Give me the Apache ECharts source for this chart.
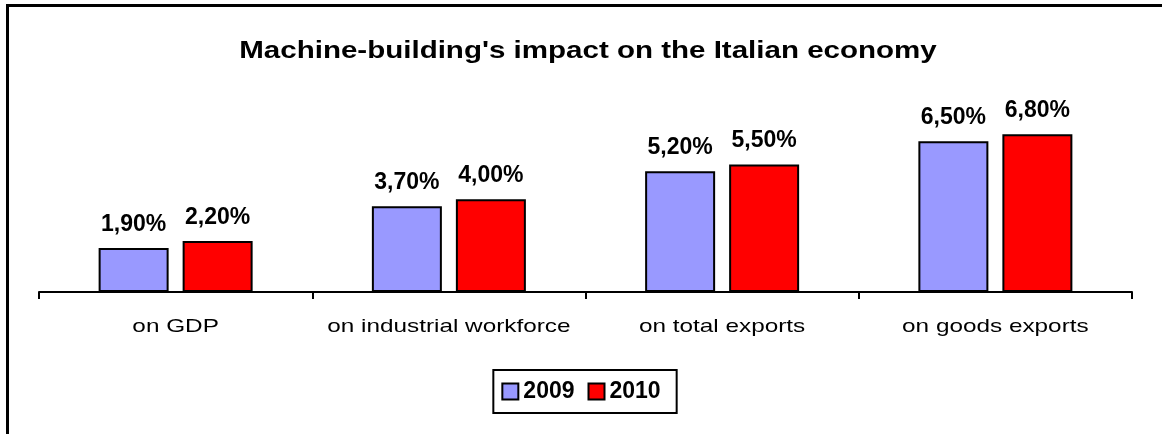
<!DOCTYPE html>
<html>
<head>
<meta charset="utf-8">
<script src="https://cdn.jsdelivr.net/npm/echarts@6/dist/echarts.min.js"></script>
<style>
html,body{margin:0;padding:0;background:#fff;}
#chart{position:absolute;left:0;top:0;width:1162px;height:434px;}
#frame{position:absolute;left:6px;top:4px;width:1200px;height:500px;border-left:3px solid #000;border-top:3px solid #000;pointer-events:none;}
</style>
</head>
<body>
<div id="chart"></div>
<div id="frame"></div>
<script>
const titleText = "Machine-building's impact on the Italian economy";
const categories = ['on GDP', 'on industrial workforce', 'on total exports', 'on goods exports'];
const seriesNames = ['2009', '2010'];
const values2009 = [1.9, 3.7, 5.2, 6.5];
const values2010 = [2.2, 4.0, 5.5, 6.8];

const FONT = "'Liberation Sans', Arial, sans-serif";
const chart = echarts.init(document.getElementById('chart'), null, {renderer: 'canvas'});

const fmt = p => p.value.toFixed(2).replace('.', ',') + '%';
const labelStyle = {show: true, position: 'top', distance: 12, formatter: fmt,
  fontFamily: FONT, fontWeight: 'bold', fontSize: 23, color: '#000'};

chart.setOption({
  animation: false,
  grid: {left: 39, right: 30, top: 106.4, bottom: 142, containLabel: false},
  xAxis: {
    type: 'category', data: categories,
    axisLine: {lineStyle: {color: '#000', width: 2}},
    axisTick: {show: true, length: 7, lineStyle: {color: '#000', width: 2}},
    axisLabel: {show: false}
  },
  yAxis: {type: 'value', min: 0, max: 8, show: false, splitLine: {show: false}},
  legend: {
    data: seriesNames, bottom: 21, left: 'center', orient: 'horizontal',
    itemWidth: 16, itemHeight: 16, itemGap: 13, icon: 'rect',
    padding: [10, 16, 10, 8], borderColor: '#000', borderWidth: 2,
    textStyle: {fontFamily: FONT, fontWeight: 'bold', fontSize: 23, color: '#000'}
  },
  series: [
    {name: seriesNames[0], type: 'bar', data: values2009, barWidth: 70, barGap: '20%',
     itemStyle: {color: '#9999FF', borderColor: '#000', borderWidth: 2}, label: labelStyle},
    {name: seriesNames[1], type: 'bar', data: values2010, barWidth: 70, barGap: '20%',
     itemStyle: {color: '#FF0000', borderColor: '#000', borderWidth: 2}, label: labelStyle}
  ]
});

// Horizontally stretched texts (title, category labels), placed through the chart's own axes
const axisY = chart.convertToPixel({yAxisIndex: 0}, 0);
const graphics = [{
  type: 'text', x: 588, y: 51, scaleX: 1.23, scaleY: 1,
  style: {text: titleText, font: 'bold 24px ' + FONT, fill: '#000',
    textAlign: 'center', textVerticalAlign: 'middle'}
}];
categories.forEach(c => {
  const x = chart.convertToPixel({xAxisIndex: 0}, c);
  graphics.push({
    type: 'text', x: x, y: axisY + 35, scaleX: 1.28, scaleY: 1,
    style: {text: c, font: '19px ' + FONT, fill: '#000',
      textAlign: 'center', textVerticalAlign: 'middle'}
  });
});
chart.setOption({graphic: graphics});
</script>
</body>
</html>
